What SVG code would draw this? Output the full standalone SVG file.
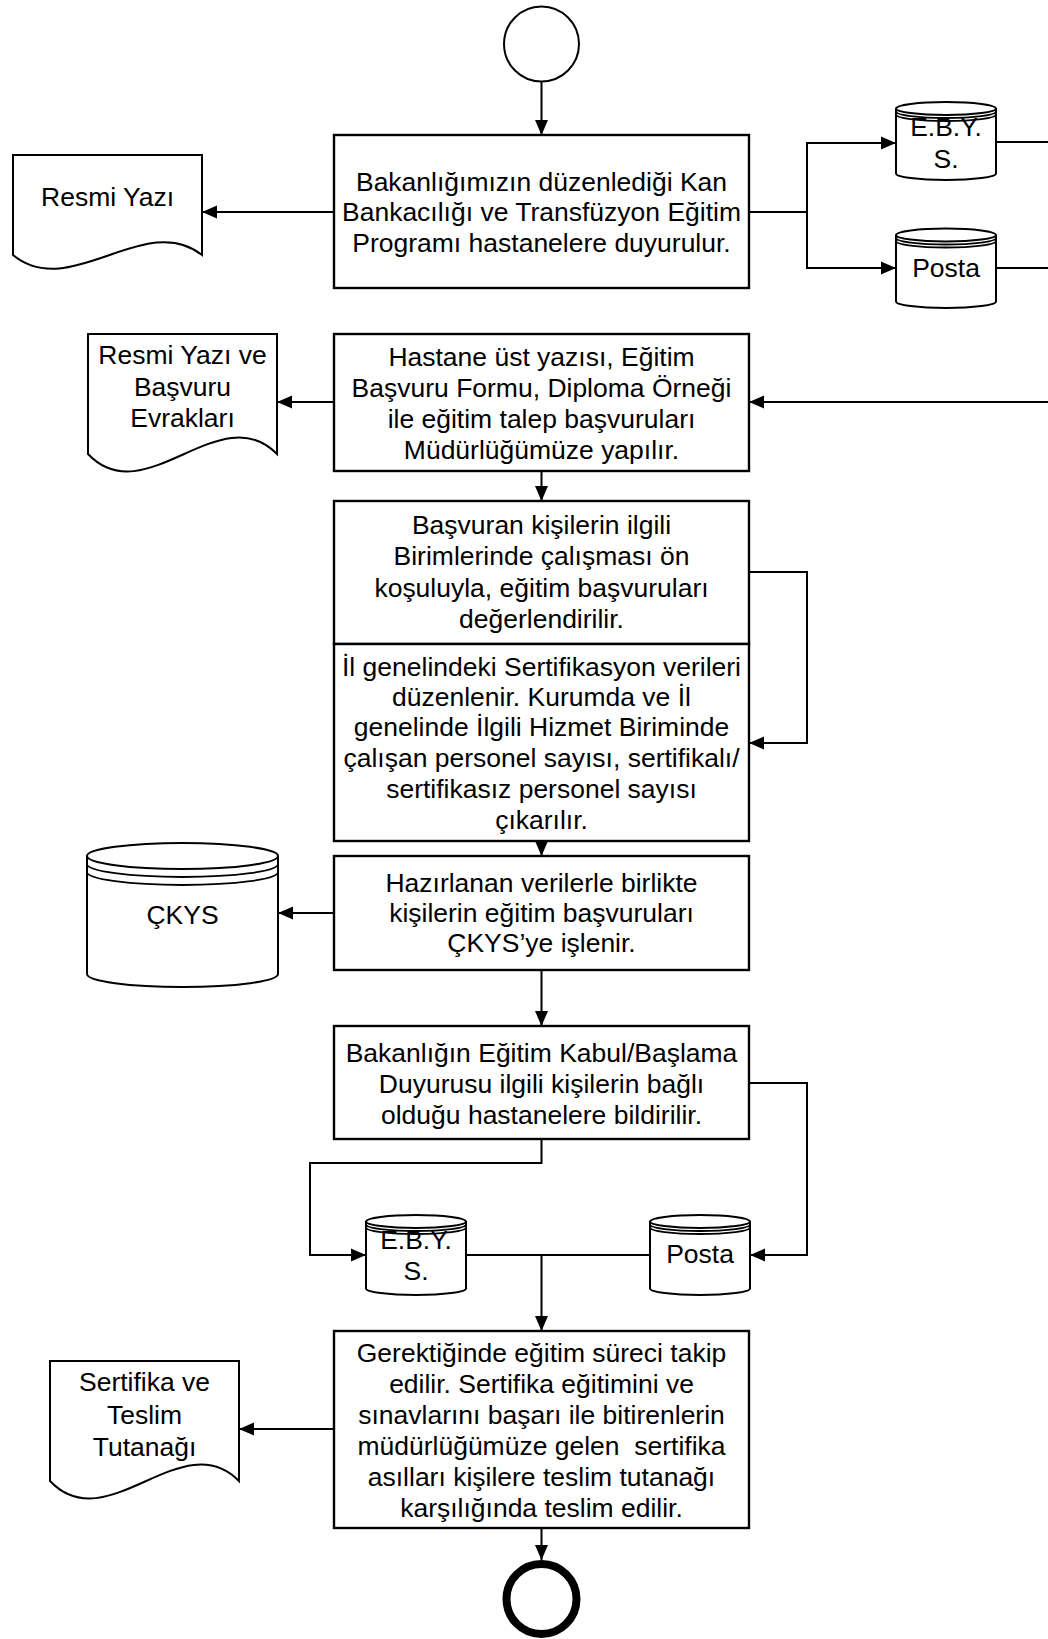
<svg xmlns="http://www.w3.org/2000/svg" width="1048" height="1639" viewBox="0 0 1048 1639">
<style>
.bg{fill:#fff}
.box{fill:#fff;stroke:#000;stroke-width:2.4}
.shp{fill:#fff;stroke:#000;stroke-width:2}
.ln{fill:none;stroke:#000;stroke-width:1.8}
.c{fill:none;stroke:#000;stroke-width:2}
.ca{fill:none;stroke:#000;stroke-width:2;marker-end:url(#ah)}
text{font-family:"Liberation Sans",Arial,sans-serif;font-size:25px;fill:#000;text-anchor:middle}
</style>
<defs>
<marker id="ah" markerUnits="userSpaceOnUse" markerWidth="16" markerHeight="16" refX="15" refY="8" orient="auto">
<path d="M0,1.5 L15,8 L0,14.5 z" fill="#000"/>
</marker>
</defs>
<rect class="bg" x="0" y="0" width="1048" height="1639"/>

<g id="connectors">
<path class="ca" d="M541.5,81.5 V135"/>
<path class="ca" d="M334,212 H202"/>
<path class="ca" d="M749,212 H807 V143 H896"/>
<path class="ca" d="M807,212 V268 H896"/>
<path class="c" d="M996,142 H1048"/>
<path class="c" d="M996,268 H1048"/>
<path class="ca" d="M1048,402 H749"/>
<path class="ca" d="M334,402 H277"/>
<path class="ca" d="M541.5,471 V501"/>
<path class="ca" d="M749,572 H807 V743 H749"/>
<path class="ca" d="M541.5,841 V856"/>
<path class="ca" d="M334,913 H278"/>
<path class="ca" d="M541.5,970 V1026"/>
<path class="ca" d="M749,1083 H807 V1255 H750"/>
<path class="ca" d="M541.5,1139 V1163 H310 V1255 H366"/>
<path class="c" d="M466,1255 H650"/>
<path class="ca" d="M541.5,1255 V1331"/>
<path class="ca" d="M334,1429 H239"/>
<path class="ca" d="M541.5,1528 V1560"/>
</g>

<g id="start">
<circle class="shp" cx="541.5" cy="44" r="37.5" stroke-width="1.6"/>
</g>

<g id="box1">
<rect class="box" x="334" y="135" width="415" height="153"/>
<g transform="translate(541.5 0) scale(1.06 1)">
<text x="0" y="190.8">Bakanlığımızın düzenlediği Kan</text>
<text x="0" y="221.3">Bankacılığı ve Transfüzyon Eğitim</text>
<text x="0" y="251.8">Programı hastanelere duyurulur.</text>
</g>
</g>

<g id="doc1">
<path class="shp" d="M13,155 H202 V255 C145,210 70,302 13,255 Z"/>
<g transform="translate(107.5 0) scale(1.06 1)">
<text x="0" y="205.8">Resmi Yazı</text>
</g>
</g>

<g id="ebys1">
<path class="shp" d="M896,108.5 V173.5 A50,6.5 0 0 0 996,173.5 V108.5"/>
<ellipse class="shp" cx="946" cy="108.5" rx="50" ry="6.5"/>
<path class="ln" d="M896,111.5 A50,6.5 0 0 0 996,111.5"/>
<path class="ln" d="M896,114.5 A50,6.5 0 0 0 996,114.5"/>
<g transform="translate(946 0) scale(1.06 1)">
<text x="0" y="135.8">E.B.Y.</text>
<text x="0" y="167.8">S.</text>
</g>
</g>

<g id="posta1">
<path class="shp" d="M896,235 V301.5 A50,6.5 0 0 0 996,301.5 V235"/>
<ellipse class="shp" cx="946" cy="235" rx="50" ry="6.5"/>
<path class="ln" d="M896,238 A50,6.5 0 0 0 996,238"/>
<path class="ln" d="M896,241 A50,6.5 0 0 0 996,241"/>
<g transform="translate(946 0) scale(1.06 1)">
<text x="0" y="277.1">Posta</text>
</g>
</g>

<g id="box2">
<rect class="box" x="334" y="334" width="415" height="137"/>
<g transform="translate(541.5 0) scale(1.06 1)">
<text x="0" y="365.8">Hastane üst yazısı, Eğitim</text>
<text x="0" y="396.8">Başvuru Formu, Diploma Örneği</text>
<text x="0" y="427.8">ile eğitim talep başvuruları</text>
<text x="0" y="458.8">Müdürlüğümüze yapılır.</text>
</g>
</g>

<g id="doc2">
<path class="shp" d="M88,334 H277 V454 C220,396 145,514 88,454 Z"/>
<g transform="translate(182.5 0) scale(1.06 1)">
<text x="0" y="363.8">Resmi Yazı ve</text>
<text x="0" y="395.8">Başvuru</text>
<text x="0" y="426.8">Evrakları</text>
</g>
</g>

<g id="box3">
<rect class="box" x="334" y="501" width="415" height="143"/>
<g transform="translate(541.5 0) scale(1.06 1)">
<text x="0" y="533.8">Başvuran kişilerin ilgili</text>
<text x="0" y="565.3">Birimlerinde çalışması ön</text>
<text x="0" y="596.8">koşuluyla, eğitim başvuruları</text>
<text x="0" y="628.3">değerlendirilir.</text>
</g>
</g>

<g id="box4">
<rect class="box" x="334" y="644" width="415" height="197"/>
<g transform="translate(541.5 0) scale(1.06 1)">
<text x="0" y="675.8">İl genelindeki Sertifikasyon verileri</text>
<text x="0" y="705.8">düzenlenir. Kurumda ve İl</text>
<text x="0" y="736.3">genelinde İlgili Hizmet Biriminde</text>
<text x="0" y="766.8">çalışan personel sayısı, sertifikalı/</text>
<text x="0" y="797.8">sertifikasız personel sayısı</text>
<text x="0" y="828.8">çıkarılır.</text>
</g>
</g>

<g id="box5">
<rect class="box" x="334" y="856" width="415" height="114"/>
<g transform="translate(541.5 0) scale(1.06 1)">
<text x="0" y="891.8">Hazırlanan verilerle birlikte</text>
<text x="0" y="921.8">kişilerin eğitim başvuruları</text>
<text x="0" y="951.8">ÇKYS’ye işlenir.</text>
</g>
</g>

<g id="ckys">
<path class="shp" d="M87,856 V974 A95.5,13 0 0 0 278,974 V856"/>
<ellipse class="shp" cx="182.5" cy="856" rx="95.5" ry="13"/>
<path class="ln" d="M87,864 A95.5,13 0 0 0 278,864"/>
<path class="ln" d="M87,872 A95.5,13 0 0 0 278,872"/>
<g transform="translate(182.5 0) scale(1.06 1)">
<text x="0" y="923.8">ÇKYS</text>
</g>
</g>

<g id="box6">
<rect class="box" x="334" y="1026" width="415" height="113"/>
<g transform="translate(541.5 0) scale(1.06 1)">
<text x="0" y="1061.8">Bakanlığın Eğitim Kabul/Başlama</text>
<text x="0" y="1092.8">Duyurusu ilgili kişilerin bağlı</text>
<text x="0" y="1123.8">olduğu hastanelere bildirilir.</text>
</g>
</g>

<g id="ebys2">
<path class="shp" d="M366,1221.5 V1288.5 A50,6.5 0 0 0 466,1288.5 V1221.5"/>
<ellipse class="shp" cx="416" cy="1221.5" rx="50" ry="6.5"/>
<path class="ln" d="M366,1224.5 A50,6.5 0 0 0 466,1224.5"/>
<path class="ln" d="M366,1227.5 A50,6.5 0 0 0 466,1227.5"/>
<g transform="translate(416 0) scale(1.06 1)">
<text x="0" y="1248.8">E.B.Y.</text>
<text x="0" y="1280.3">S.</text>
</g>
</g>

<g id="posta2">
<path class="shp" d="M650,1221.5 V1288.5 A50,6.5 0 0 0 750,1288.5 V1221.5"/>
<ellipse class="shp" cx="700" cy="1221.5" rx="50" ry="6.5"/>
<path class="ln" d="M650,1224.5 A50,6.5 0 0 0 750,1224.5"/>
<path class="ln" d="M650,1227.5 A50,6.5 0 0 0 750,1227.5"/>
<g transform="translate(700 0) scale(1.06 1)">
<text x="0" y="1262.8">Posta</text>
</g>
</g>

<g id="box7">
<rect class="box" x="334" y="1331" width="415" height="197"/>
<g transform="translate(541.5 0) scale(1.06 1)">
<text x="0" y="1361.8">Gerektiğinde eğitim süreci takip</text>
<text x="0" y="1392.8">edilir. Sertifika eğitimini ve</text>
<text x="0" y="1423.8">sınavlarını başarı ile bitirenlerin</text>
<text x="0" y="1454.8" style="white-space:pre">müdürlüğümüze gelen  sertifika</text>
<text x="0" y="1485.8">asılları kişilere teslim tutanağı</text>
<text x="0" y="1516.8">karşılığında teslim edilir.</text>
</g>
</g>

<g id="doc3">
<path class="shp" d="M50,1361 H239 V1481 C182,1423 107,1541 50,1481 Z"/>
<g transform="translate(144.5 0) scale(1.06 1)">
<text x="0" y="1390.8">Sertifika ve</text>
<text x="0" y="1423.8">Teslim</text>
<text x="0" y="1455.8">Tutanağı</text>
</g>
</g>

<g id="end">
<circle cx="541.5" cy="1599" r="35" fill="#fff" stroke="#000" stroke-width="8"/>
</g>
</svg>
